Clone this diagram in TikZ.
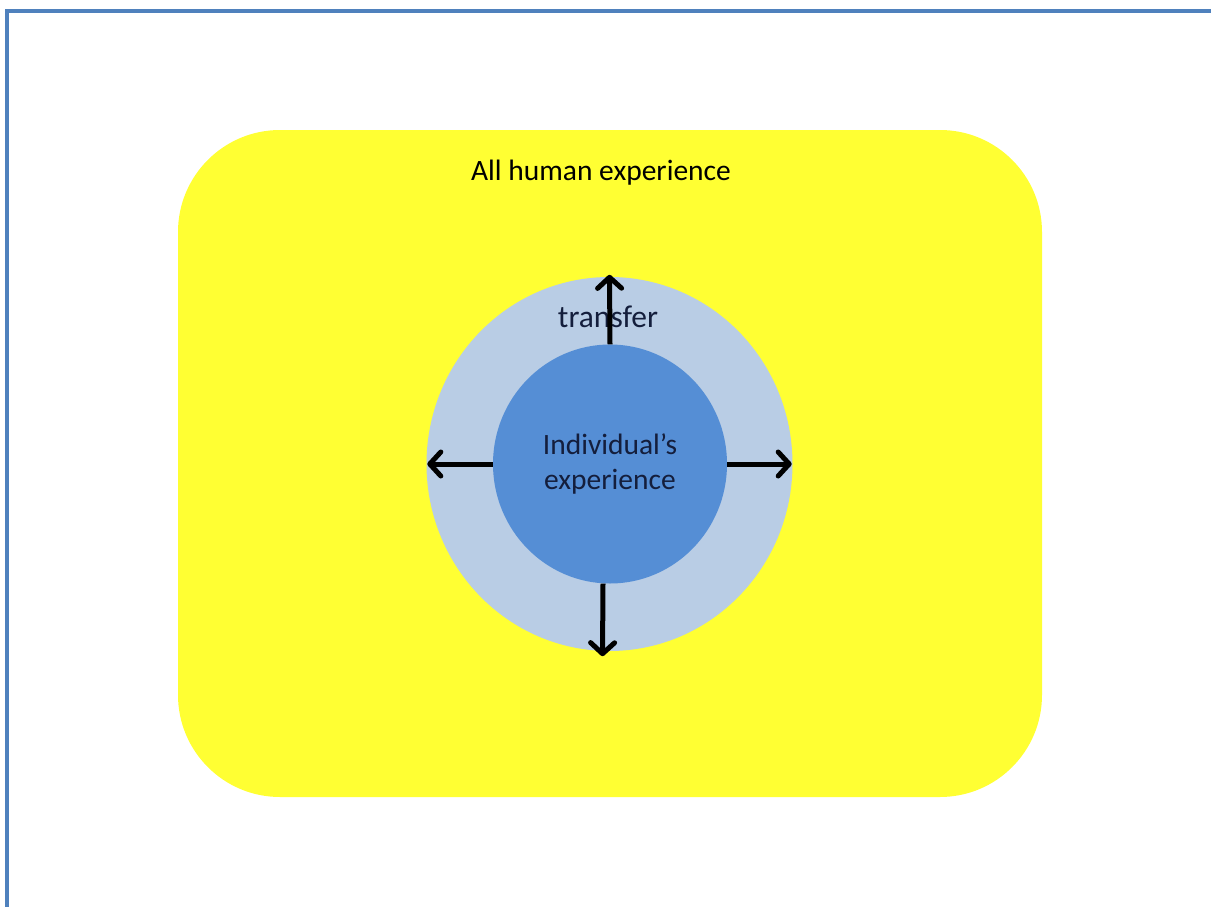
\documentclass[tikz,border=0pt]{standalone}
\usepackage{fontspec}
\setmainfont{Carlito}
\usepackage{xcolor}
\usetikzlibrary{arrows.meta,positioning,shapes.geometric}

\definecolor{frameblue}{HTML}{4F81BD}
\definecolor{allyellow}{HTML}{FFFF33}
\definecolor{ringblue}{HTML}{B9CDE5}
\definecolor{coreblue}{HTML}{558ED5}
\definecolor{coretext}{HTML}{141E3C}

\begin{document}
\begin{tikzpicture}[
  x=1pt,
  y=-1pt,
  >={Straight Barb[length=11pt,width=24pt,line cap=round,line join=round]},
  every node/.style={font=\fontsize{29.5}{35.4}\selectfont},
  region/.style={ellipse,inner sep=0pt,draw=none},
  flow/.style={->,draw=black,line width=5pt}
]
\useasboundingbox (0,0) rectangle (1211,907);

% Page frame, only top and left edges in view.
\draw[frameblue,line width=3.6pt] (7,907) -- (7,11) -- (1211,11);

% All human experience.
\fill[allyellow,rounded corners=102pt] (178,130) rectangle (1042,797);
\node[anchor=base] (alltext) at (601,180) {All human experience};

% Transfer ring and the individual's core.
\node[region,fill=ringblue,minimum width=366pt,minimum height=374pt]
  (outer) at (609.5,464) {};
\node[region,fill=coreblue,minimum width=234pt,minimum height=239pt,
  align=center,text=coretext]
  (inner) at (610,464) {Individual’s\\experience};

\node[anchor=base,font=\fontsize{31.5}{37}\selectfont,text=coretext]
  (transfer) at (608,327) {transfer};

% Transfer outward in every direction.
\draw[flow] (inner.north) -- ([yshift=2pt]outer.north);
\draw[flow] ([xshift=-7pt]inner.south) -- ([xshift=-7pt,yshift=-5pt]outer.south);
\draw[flow] (inner.west) -- ([xshift=1pt]outer.west);
\draw[flow] (inner.east) -- ([xshift=-1pt]outer.east);

\end{tikzpicture}
\end{document}
